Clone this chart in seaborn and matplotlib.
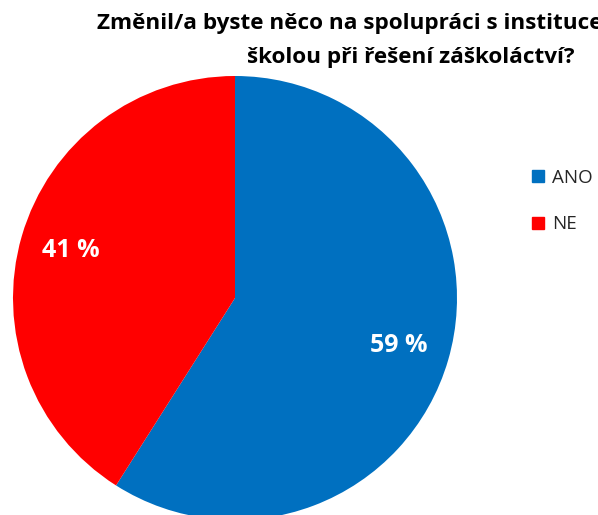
import matplotlib
matplotlib.use("Agg")
import matplotlib.pyplot as plt
import seaborn as sns
from matplotlib.lines import Line2D

categories = ["ANO", "NE"]
values = [59, 41]
colors_hex = ["#0070C0", "#FF0000"]
title_line1 = "Změnil/a byste něco na spolupráci s institucemi"
title_line2 = "školou při řešení záškoláctví?"

sns.set_theme(style="white")
plt.rcParams['font.family'] = ['Open Sans', 'DejaVu Sans']
palette = sns.color_palette(colors_hex)

fig = plt.figure(figsize=(5.98, 5.15), dpi=100)
ax = fig.add_axes([13/598, (515-520)/515, 444/598, 444/515])
wedges, texts, autotexts = ax.pie(
    values, colors=palette, startangle=90, counterclock=False,
    autopct=lambda p: f"{p:.0f} %", pctdistance=0.77, radius=1,
    wedgeprops=dict(linewidth=0),
    textprops=dict(color="white", fontsize=18, fontweight="bold"))
ax.set_xlim(-1, 1)
ax.set_ylim(-1, 1)
ax.set_aspect("equal")
ax.axis("off")

fig.text(97/598, 1 - 24/515, title_line1, ha="left", va="center",
         fontsize=16.2, fontweight="bold", color="black")
fig.text(411/598, 1 - 57/515, title_line2, ha="center", va="center",
         fontsize=16.2, fontweight="bold", color="black")

handles = [Line2D([0], [0], marker="s", linestyle="none", markersize=9,
                  markerfacecolor=c, markeredgecolor=c) for c in palette]
fig.legend(handles, categories, loc="upper left", bbox_to_anchor=(529/598, 1 - 169/515),
           frameon=False, fontsize=13.5, handletextpad=0.25, labelspacing=1.5,
           handlelength=1.0, borderaxespad=0, borderpad=0)

fig.savefig("out.png", dpi=100)
